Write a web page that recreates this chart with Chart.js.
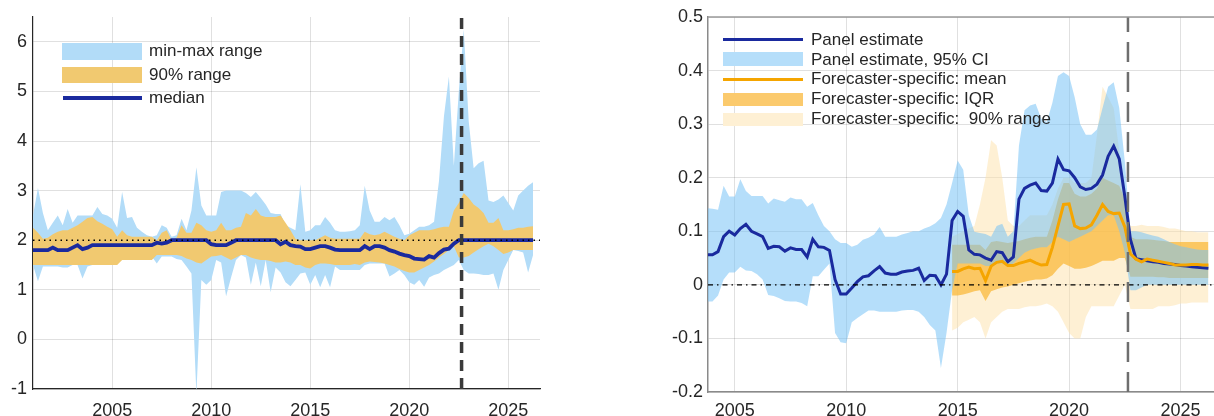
<!DOCTYPE html>
<html>
<head>
<meta charset="utf-8">
<script src="https://cdn.jsdelivr.net/npm/chart.js@4.4.1/dist/chart.umd.min.js"></script>
<style>
  body { margin: 0; background: #fff; width: 1214px; height: 416px; overflow: hidden; position: relative;
         font-family: "Liberation Sans", Arial, sans-serif; color: #262626; }
  canvas { position: absolute; top: 0; }
  #leftCanvas { left: 0; }
  #rightCanvas { left: 665px; }
  .sw { position: absolute; }
  .txt { position: absolute; font-size: 17px; line-height: 20px; white-space: pre; }
</style>
</head>
<body>
<canvas id="leftCanvas" width="550" height="416"></canvas>
<canvas id="rightCanvas" width="549" height="416"></canvas>

<!-- left legend -->
<div class="sw" style="left:62px;top:43px;width:80px;height:17px;background:rgb(178,220,248)"></div>
<div class="txt" style="left:149px;top:41px">min-max range</div>
<div class="sw" style="left:62px;top:67px;width:80px;height:16px;background:rgb(241,201,112)"></div>
<div class="txt" style="left:149px;top:65px">90% range</div>
<div class="sw" style="left:63px;top:96px;width:79px;height:4px;background:#1a2a9e"></div>
<div class="txt" style="left:149px;top:88px">median</div>

<!-- right legend -->
<div class="sw" style="left:723px;top:38px;width:80px;height:3px;background:#1a2a9e"></div>
<div class="txt" style="left:811px;top:30px">Panel estimate</div>
<div class="sw" style="left:723px;top:52px;width:80px;height:14px;background:rgb(181,222,250)"></div>
<div class="txt" style="left:811px;top:50px">Panel estimate, 95% CI</div>
<div class="sw" style="left:723px;top:78px;width:80px;height:3px;background:rgb(245,165,0)"></div>
<div class="txt" style="left:811px;top:69px">Forecaster-specific: mean</div>
<div class="sw" style="left:723px;top:93px;width:80px;height:13px;background:rgb(251,202,109)"></div>
<div class="txt" style="left:811px;top:89px">Forecaster-specific: IQR</div>
<div class="sw" style="left:723px;top:113px;width:80px;height:13px;background:rgb(254,240,212)"></div>
<div class="txt" style="left:811px;top:109px">Forecaster-specific:  90% range</div>

<script>
// ---- left panel: quarterly data from 2001Q1 ----
const leftStart = 2001;
const leftXTicks = [2005, 2010, 2015, 2020, 2025];
const leftYTicks = [-1, 0, 1, 2, 3, 4, 5, 6];
const leftYMin = -1, leftYMax = 6.5;
const leftXMin = 2001, leftXMax = 2026.6;
const inflationTarget = 2;
const forecastStart = 2022.64;

const leftMax = [
  2.5, 3.05, 2.55, 2.2,   // 2001
  2.35, 2.5, 2.3, 2.63,   // 2002
  2.35, 2.5, 2.5, 2.5,    // 2003
  2.5, 2.67, 2.53, 2.5,   // 2004
  2.43, 2.25, 2.97, 2.45, // 2005
  2.47, 2.25, 2.17, 2.1,  // 2006
  2.07, 2.1, 2.3, 2.25,   // 2007
  2.07, 2.1, 2.43, 2.2,   // 2008
  2.6, 3.47, 2.7, 2.5,    // 2009
  2.5, 2.5, 2.97, 3.0,    // 2010
  3.0, 3.0, 3.0, 2.95,    // 2011
  2.87, 2.97, 2.85, 2.72, // 2012
  2.55, 2.53, 2.53, 2.3,  // 2013
  2.25, 2.2, 3.13, 2.17,  // 2014
  2.2, 2.3, 2.3, 2.47,    // 2015
  2.35, 2.2, 2.17, 2.17,  // 2016
  2.18, 2.2, 2.3, 3.1,    // 2017
  2.6, 2.37, 2.37, 2.47,  // 2018
  2.4, 2.47, 2.3, 2.1,    // 2019
  2.13, 2.2, 2.27, 2.27,  // 2020
  2.3, 2.37, 3.2, 4.5,    // 2021
  5.3, 3.5, 5.0, 6.25,    // 2022
  4.4, 3.45, 3.55, 3.6,   // 2023
  2.8, 2.77, 2.82, 2.9,   // 2024
  2.75, 2.6, 2.9, 3.0,    // 2025
  3.1, 3.17               // 2026
];
const leftP95 = [
  2.25, 2.15, 2.03, 2.05,
  2.12, 2.17, 2.2, 2.2,
  2.25, 2.3, 2.37, 2.45,
  2.47, 2.38, 2.33, 2.27,
  2.22, 2.07, 2.2, 2.1,
  2.07, 2.07, 2.07, 2.07,
  2.07, 2.0, 2.15, 2.2,
  2.0, 2.05, 2.3, 2.15,
  2.15, 2.35, 2.3, 2.2,
  2.17, 2.2, 2.35, 2.2,
  2.2, 2.25, 2.27, 2.55,
  2.5, 2.63, 2.5, 2.47,
  2.47, 2.47, 2.5, 2.35,
  2.2, 2.03, 2.0, 2.0,
  2.0, 2.0, 2.05, 2.1,
  2.05, 2.03, 2.03, 2.03,
  2.03, 2.03, 2.03, 2.17,
  2.12, 2.1, 2.12, 2.17,
  2.12, 2.07, 2.03, 2.0,
  2.1, 2.15, 2.2, 2.2,
  2.2, 2.22, 2.25, 2.27,
  2.27, 2.6, 2.75, 2.95,
  2.85, 2.72, 2.65, 2.55,
  2.35, 2.35, 2.45, 2.2,
  2.2, 2.22, 2.25, 2.25,
  2.27, 2.28
];
const leftP5 = [
  1.5, 1.5, 1.5, 1.5,
  1.5, 1.5, 1.5, 1.5,
  1.5, 1.5, 1.5, 1.5,
  1.5, 1.5, 1.5, 1.5,
  1.5, 1.5, 1.6, 1.6,
  1.6, 1.6, 1.6, 1.6,
  1.6, 1.7, 1.7, 1.7,
  1.7, 1.7, 1.68, 1.63,
  1.6, 1.55, 1.53, 1.6,
  1.67, 1.68, 1.7, 1.65,
  1.6, 1.65, 1.7, 1.7,
  1.65, 1.62, 1.6, 1.6,
  1.58, 1.55, 1.55, 1.57,
  1.55, 1.5, 1.5, 1.45,
  1.43, 1.5, 1.53, 1.53,
  1.52, 1.5, 1.5, 1.5,
  1.5, 1.52, 1.5, 1.55,
  1.57, 1.56, 1.55, 1.53,
  1.5, 1.47, 1.42, 1.38,
  1.35, 1.35, 1.4, 1.45,
  1.5, 1.57, 1.65, 1.72,
  1.8, 1.88, 1.65, 1.65,
  1.68, 1.75, 1.82, 1.88,
  1.93, 1.88, 1.8, 1.72,
  1.75, 1.8, 1.8, 1.8,
  1.8, 1.8
];
const leftMin = [
  1.5, 1.17, 1.47, 1.47,
  1.47, 1.47, 1.45, 1.45,
  1.5, 1.5, 1.23, 1.47,
  1.5, 1.5, 1.5, 1.5,
  1.55, 1.67, 1.6, 1.67,
  1.6, 1.65, 1.67, 1.6,
  1.67, 1.53, 1.67, 1.67,
  1.67, 1.62, 1.6, 1.47,
  1.33, -1.1, 1.2, 1.1,
  1.2, 1.6, 1.55, 0.87,
  1.25, 1.6, 1.7, 1.65,
  1.1, 1.55, 1.07, 1.6,
  0.95, 1.45, 1.35, 1.15,
  1.07, 1.2, 1.33, 1.35,
  1.1, 1.3, 1.05, 1.3,
  1.05, 1.47, 1.4, 1.4,
  1.4, 1.4, 1.4, 1.5,
  1.53, 1.53, 1.53, 1.53,
  1.27, 1.33, 1.4, 1.3,
  1.15, 1.1, 1.2, 1.06,
  1.25, 1.3, 1.33, 1.4,
  1.45, 1.5, 1.6, 1.4,
  1.33, 1.33, 1.32, 1.3,
  1.3, 1.33, 1.0, 1.4,
  1.6, 1.8, 1.78, 1.75,
  1.35, 1.7
];
const leftMedian = [
  1.8, 1.8, 1.8, 1.8,
  1.85, 1.8, 1.8, 1.8,
  1.85, 1.9, 1.82, 1.85,
  1.9, 1.9, 1.9, 1.9,
  1.9, 1.9, 1.9, 1.9,
  1.9, 1.9, 1.9, 1.9,
  1.9, 1.95, 1.93, 1.95,
  2.0, 2.0, 2.0, 2.0,
  2.0, 2.0, 2.0, 2.0,
  1.92, 1.9, 1.9, 1.9,
  1.95, 2.0, 2.0, 2.0,
  2.0, 2.0, 2.0, 2.0,
  2.0, 2.0, 1.92, 1.97,
  1.9, 1.88, 1.87, 1.82,
  1.82, 1.85, 1.88, 1.88,
  1.85, 1.81, 1.8, 1.8,
  1.8, 1.8, 1.8, 1.88,
  1.82, 1.88, 1.88, 1.85,
  1.8, 1.77, 1.73, 1.7,
  1.68, 1.63, 1.62, 1.61,
  1.68, 1.65, 1.74, 1.81,
  1.83, 1.93, 2.0, 2.0,
  2.0, 2.0, 2.0, 2.0,
  2.0, 2.0, 2.0, 2.0,
  2.0, 2.0, 2.0, 2.0,
  2.0, 2.0
];

// ---- right panel: panel estimate from 2003Q4, forecaster-specific from 2014Q4 ----
const panelStart = 2003.75;
const forecasterStart = 2014.75;
const rightXTicks = [2005, 2010, 2015, 2020, 2025];
const rightYTicks = [-0.2, -0.1, 0, 0.1, 0.2, 0.3, 0.4, 0.5];
const rightYMin = -0.2, rightYMax = 0.5;
const rightXMin = 2003.8, rightXMax = 2026.5;

const panelEst = [
  0.056,
  0.056, 0.062, 0.09, 0.1,      // 2004
  0.093, 0.105, 0.113, 0.1,     // 2005
  0.095, 0.09, 0.068, 0.072,    // 2006
  0.071, 0.063, 0.069, 0.066,   // 2007
  0.066, 0.052, 0.085, 0.071,   // 2008
  0.07, 0.064, 0.01, -0.017,    // 2009
  -0.017, -0.006, 0.006, 0.015, // 2010
  0.017, 0.026, 0.034, 0.022,   // 2011
  0.02, 0.02, 0.024, 0.026,     // 2012
  0.027, 0.031, 0.008, 0.018,   // 2013
  0.017, 0.0, 0.02, 0.12,       // 2014
  0.137, 0.128, 0.065, 0.057,   // 2015
  0.056, 0.05, 0.046, 0.062,    // 2016
  0.06, 0.043, 0.052, 0.16,     // 2017
  0.18, 0.186, 0.19, 0.176,     // 2018
  0.175, 0.19, 0.235, 0.215,    // 2019
  0.213, 0.2, 0.183, 0.178,     // 2020
  0.18, 0.188, 0.205, 0.24,     // 2021
  0.259, 0.235, 0.165, 0.085,   // 2022
  0.049, 0.047, 0.045, 0.043,   // 2023
  0.042, 0.04, 0.039, 0.038,    // 2024
  0.036, 0.035, 0.034, 0.033,   // 2025
  0.032, 0.031                  // 2026
];
const panelCiHigh = [
  0.143,
  0.142, 0.14, 0.185, 0.165,
  0.165, 0.197, 0.175, 0.166,
  0.166, 0.166, 0.152, 0.161,
  0.158, 0.155, 0.163, 0.16,
  0.16, 0.146, 0.153, 0.13,
  0.11, 0.1, 0.085, 0.078,
  0.078, 0.071, 0.075, 0.084,
  0.088, 0.094, 0.108, 0.09,
  0.09, 0.09, 0.094, 0.097,
  0.1, 0.1, 0.105, 0.109,
  0.115, 0.125, 0.15, 0.19,
  0.232, 0.215, 0.13, 0.099,
  0.097, 0.095, 0.09, 0.11,
  0.114, 0.09, 0.1, 0.26,
  0.326, 0.335, 0.338, 0.31,
  0.304, 0.34, 0.39, 0.397,
  0.39, 0.35, 0.3, 0.28,
  0.28, 0.29, 0.33, 0.37,
  0.378, 0.33, 0.23, 0.1,
  0.1, 0.098, 0.095, 0.092,
  0.09, 0.085, 0.08, 0.076,
  0.072, 0.07, 0.068, 0.066,
  0.065, 0.065
];
const panelCiLow = [
  -0.031,
  -0.031, -0.02, 0.01, 0.023,
  0.023, 0.034, 0.027, 0.026,
  0.02, 0.01, -0.019, -0.021,
  -0.025, -0.03, -0.031, -0.031,
  -0.034, -0.04, 0.016, 0.016,
  0.028, 0.04, -0.09, -0.107,
  -0.109, -0.07, -0.062, -0.055,
  -0.048, -0.048, -0.05, -0.05,
  -0.05, -0.05, -0.048, -0.047,
  -0.047, -0.05, -0.06, -0.075,
  -0.085, -0.155, -0.09, -0.01,
  0.04, 0.04, 0.04, 0.04,
  0.04, 0.035, 0.035, 0.04,
  0.04, 0.035, 0.04, 0.05,
  0.06, 0.065, 0.068, 0.07,
  0.07, 0.08, 0.09, 0.085,
  0.08, 0.085, 0.09, 0.095,
  0.1, 0.11, 0.12, 0.13,
  0.13, 0.1, 0.06, -0.01,
  -0.01, -0.005, 0.0, 0.0,
  0.0, 0.0, 0.0, 0.0,
  0.0, 0.0, 0.0, 0.0,
  0.0, 0.0
];
const fcMean = [
  0.025,
  0.025, 0.03, 0.033, 0.03,     // 2015
  0.031, 0.008, 0.035, 0.042,   // 2016
  0.044, 0.036, 0.036, 0.04,    // 2017
  0.043, 0.046, 0.041, 0.037,   // 2018
  0.038, 0.07, 0.11, 0.15,      // 2019
  0.151, 0.11, 0.105, 0.106,    // 2020
  0.112, 0.13, 0.15, 0.137,     // 2021
  0.133, 0.134, 0.108, 0.058,   // 2022
  0.048, 0.043, 0.048, 0.046,   // 2023
  0.044, 0.042, 0.04, 0.037,    // 2024
  0.037, 0.037, 0.038, 0.038,   // 2025
  0.037, 0.037                  // 2026
];
const fcIqrHigh = [
  0.075,
  0.075, 0.075, 0.075, 0.075,
  0.075, 0.065, 0.08, 0.082,
  0.08, 0.078, 0.08, 0.082,
  0.085, 0.088, 0.09, 0.09,
  0.09, 0.12, 0.16, 0.19,
  0.19, 0.17, 0.165, 0.165,
  0.17, 0.18, 0.2, 0.195,
  0.19, 0.185, 0.16, 0.09,
  0.085, 0.085, 0.085, 0.084,
  0.083, 0.082, 0.08, 0.08,
  0.08, 0.08, 0.08, 0.08,
  0.08, 0.08
];
const fcIqrLow = [
  -0.02,
  -0.02, -0.018, -0.015, -0.012,
  -0.01, -0.03, -0.012, -0.008,
  -0.005, -0.003, 0.0, 0.003,
  0.006, 0.008, 0.01, 0.01,
  0.012, 0.018, 0.03, 0.04,
  0.035, 0.03, 0.03, 0.032,
  0.035, 0.04, 0.045, 0.045,
  0.045, 0.05, 0.05, 0.015,
  0.015, 0.015, 0.015, 0.015,
  0.014, 0.014, 0.013, 0.013,
  0.013, 0.013, 0.013, 0.013,
  0.013, 0.013
];
const fc90High = [
  0.09,
  0.095, 0.1, 0.105, 0.11,
  0.15, 0.2, 0.27, 0.26,
  0.2, 0.12, 0.11, 0.11,
  0.12, 0.13, 0.13, 0.13,
  0.13, 0.15, 0.18, 0.2,
  0.2, 0.19, 0.19, 0.19,
  0.2, 0.28, 0.37, 0.35,
  0.33, 0.25, 0.15, 0.11,
  0.11, 0.112, 0.11, 0.11,
  0.11, 0.108, 0.105, 0.105,
  0.103, 0.1, 0.1, 0.098,
  0.098, 0.098
];
const fc90Low = [
  -0.085,
  -0.08, -0.07, -0.065, -0.06,
  -0.07, -0.1, -0.07, -0.06,
  -0.05, -0.045, -0.045, -0.045,
  -0.042, -0.04, -0.04, -0.038,
  -0.035, -0.04, -0.05, -0.07,
  -0.09, -0.1, -0.1, -0.06,
  -0.04, -0.04, -0.04, -0.04,
  -0.04, -0.02, 0.0, -0.045,
  -0.045, -0.045, -0.045, -0.045,
  -0.04, -0.04, -0.04, -0.038,
  -0.035, -0.035, -0.033, -0.033,
  -0.033, -0.033
];

// quarterly values -> {x, y}
function toPoints(start, values) {
  return values.map((v, i) => ({ x: start + i / 4, y: v }));
}

const fontFamily = '"Liberation Sans", Arial, sans-serif';
const textColor = '#262626';

const topBorder = {
  id: 'topBorder',
  afterDraw(chart, args, opts) {
    if (!opts.color) return;
    const a = chart.chartArea, ctx = chart.ctx;
    ctx.save();
    ctx.strokeStyle = opts.color;
    ctx.lineWidth = opts.width;
    ctx.beginPath();
    ctx.moveTo(a.left, a.top);
    ctx.lineTo(a.right, a.top);
    ctx.stroke();
    ctx.restore();
  }
};

function baseOptions(cfg) {
  return {
    responsive: false,
    animation: false,
    events: [],
    layout: { padding: cfg.padding },
    elements: { point: { radius: 0 }, line: { tension: 0 } },
    plugins: { legend: { display: false }, tooltip: { enabled: false }, topBorder: cfg.topBorder || {} },
    scales: {
      x: {
        type: 'linear', min: cfg.xMin, max: cfg.xMax,
        afterBuildTicks: s => { s.ticks = cfg.xTicks.map(v => ({ value: v })); },
        afterFit: s => { s.height = cfg.xHeight; },
        grid: { color: 'rgba(0,0,0,0.12)', drawTicks: false },
        border: { color: cfg.axisColor, width: cfg.axisWidth },
        ticks: { color: textColor, font: { size: 18, family: fontFamily }, padding: cfg.xPad, maxRotation: 0,
                 callback: v => String(v) }
      },
      y: {
        min: cfg.yMin, max: cfg.yMax,
        afterBuildTicks: s => { s.ticks = cfg.yTicks.map(v => ({ value: v })); },
        afterFit: s => { s.width = cfg.yWidth; },
        grid: { color: 'rgba(0,0,0,0.12)', drawTicks: false },
        border: { color: cfg.axisColor, width: cfg.axisWidth },
        ticks: { color: textColor, font: { size: 18, family: fontFamily }, padding: cfg.yPad,
                 callback: v => String(Math.round(v * 10) / 10) }
      }
    }
  };
}

new Chart(document.getElementById('leftCanvas'), {
  type: 'line',
  plugins: [topBorder],
  data: {
    datasets: [
      { data: [{ x: forecastStart, y: leftYMin }, { x: forecastStart, y: leftYMax }],
        borderColor: '#3a3a3a', borderWidth: 3.5, borderDash: [11, 7], order: 0 },
      { data: [{ x: leftXMin, y: inflationTarget }, { x: leftXMax, y: inflationTarget }],
        borderColor: '#000', borderWidth: 1.5, borderDash: [1.5, 4], order: 1 },
      { data: toPoints(leftStart, leftMedian), borderColor: '#1a2a9e', borderWidth: 3.8, order: 2 },
      { data: toPoints(leftStart, leftP95), borderWidth: 0, backgroundColor: 'rgb(241,201,112)', fill: '+1', order: 3 },
      { data: toPoints(leftStart, leftP5), borderWidth: 0, order: 4 },
      { data: toPoints(leftStart, leftMax), borderWidth: 0, backgroundColor: 'rgb(178,220,248)', fill: '+1', order: 5 },
      { data: toPoints(leftStart, leftMin), borderWidth: 0, order: 6 }
    ]
  },
  options: baseOptions({
    padding: { top: 17, right: 10, left: 0, bottom: 0 },
    xMin: leftXMin, xMax: leftXMax, xTicks: leftXTicks, xHeight: 27, xPad: 11,
    yMin: leftYMin, yMax: leftYMax, yTicks: leftYTicks, yWidth: 33, yPad: 6,
    axisColor: '#262626', axisWidth: 1.2
  })
});

new Chart(document.getElementById('rightCanvas'), {
  type: 'line',
  plugins: [topBorder],
  data: {
    datasets: [
      { data: [{ x: forecastStart, y: rightYMin }, { x: forecastStart, y: rightYMax }],
        borderColor: '#6e6e6e', borderWidth: 2.5, borderDash: [20, 10], order: 0 },
      { data: [{ x: rightXMin, y: 0 }, { x: rightXMax, y: 0 }],
        borderColor: '#000', borderWidth: 1.2, borderDash: [5, 4, 1.5, 4], order: 1 },
      { data: toPoints(forecasterStart, fcMean), borderColor: 'rgb(245,165,0)', borderWidth: 3, order: 2 },
      { data: toPoints(panelStart, panelEst), borderColor: '#1a2a9e', borderWidth: 3, order: 3 },
      { data: toPoints(panelStart, panelCiHigh), borderWidth: 0, backgroundColor: 'rgba(120,195,245,0.55)', fill: '+1', order: 4 },
      { data: toPoints(panelStart, panelCiLow), borderWidth: 0, order: 5 },
      { data: toPoints(forecasterStart, fcIqrHigh), borderWidth: 0, backgroundColor: 'rgba(250,185,60,0.75)', fill: '+1', order: 6 },
      { data: toPoints(forecasterStart, fcIqrLow), borderWidth: 0, order: 7 },
      { data: toPoints(forecasterStart, fc90High), borderWidth: 0, backgroundColor: 'rgba(253,225,170,0.5)', fill: '+1', order: 8 },
      { data: toPoints(forecasterStart, fc90Low), borderWidth: 0, order: 9 }
    ]
  },
  options: baseOptions({
    padding: { top: 17, right: 0, left: 0, bottom: 0 },
    xMin: rightXMin, xMax: rightXMax, xTicks: rightXTicks, xHeight: 24, xPad: 8,
    yMin: rightYMin, yMax: rightYMax, yTicks: rightYTicks, yWidth: 43, yPad: 5,
    axisColor: '#8a8a8a', axisWidth: 1.5,
    topBorder: { color: '#9a9a9a', width: 1.5 }
  })
});
</script>
</body>
</html>
